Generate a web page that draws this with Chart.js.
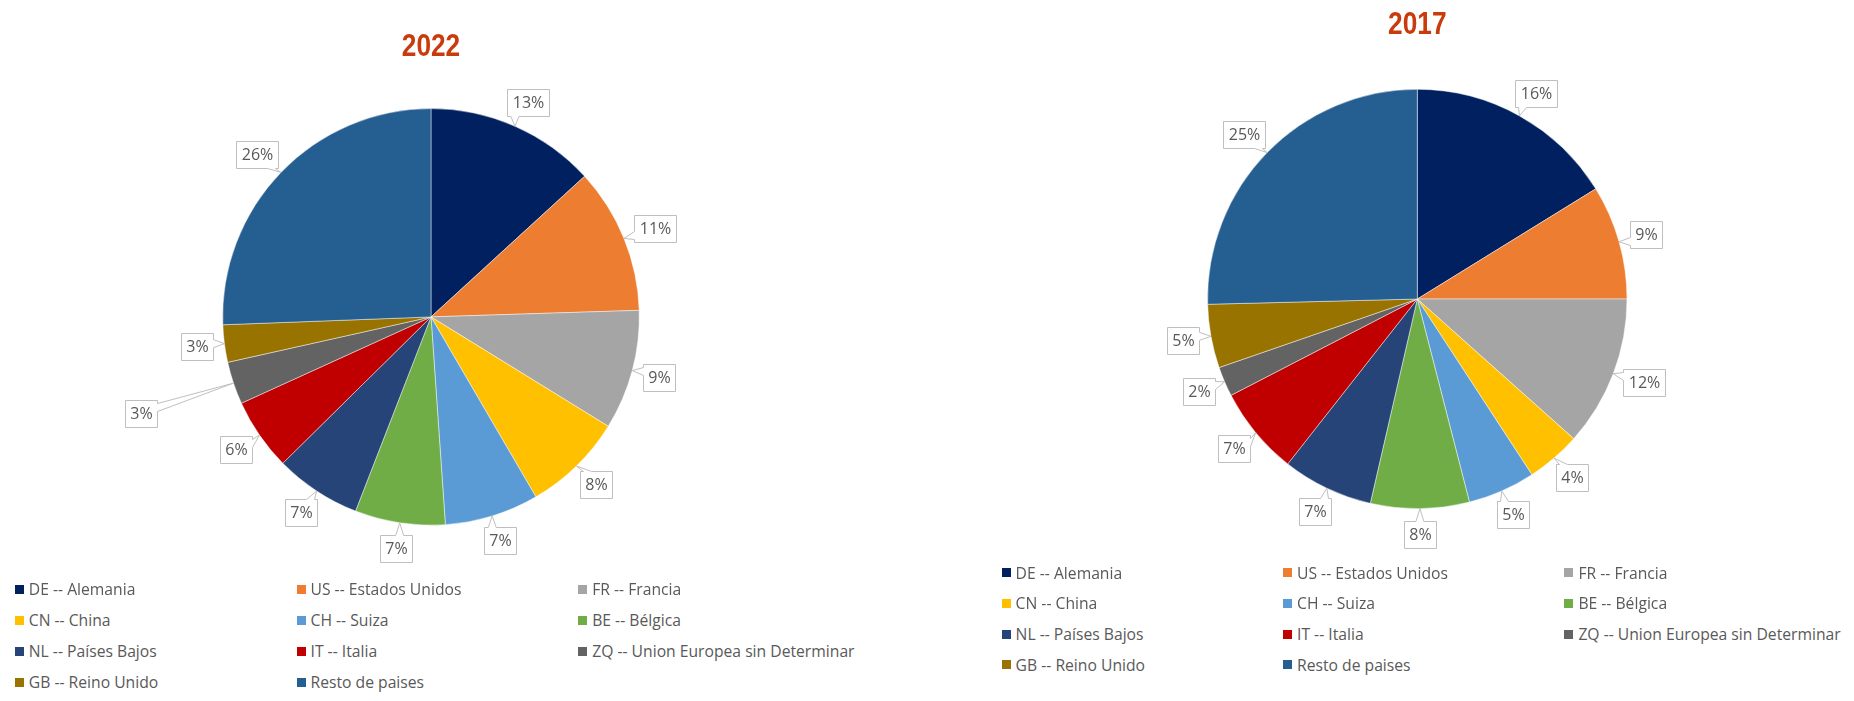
<!DOCTYPE html>
<html>
<head>
<meta charset="utf-8">
<script src="https://cdn.jsdelivr.net/npm/chart.js@4/dist/chart.umd.min.js"></script>
<style>
  html, body { margin:0; padding:0; background:#fff; width:1854px; height:701px; overflow:hidden; }
  body { position:relative; font-family:'Open Sans', sans-serif; }
  canvas { position:absolute; top:0; }
  #c2022 { left:0; }
  #c2017 { left:927px; }
  .li { position:absolute; height:22px; line-height:22px; white-space:nowrap; font-size:15.7px; color:#595959; font-family:'Open Sans', sans-serif; }
  .li i { position:absolute; left:0; top:6.5px; width:9px; height:9px; }
  .li span { position:absolute; left:14px; top:0; }
</style>
</head>
<body>
<canvas id="c2022" width="927" height="600"></canvas>
<canvas id="c2017" width="927" height="600"></canvas>
<div id="legends"></div>
<script>
// ---- data ----
const categories = [
  'DE -- Alemania', 'US -- Estados Unidos', 'FR -- Francia',
  'CN -- China', 'CH -- Suiza', 'BE -- Bélgica',
  'NL -- Países Bajos', 'IT -- Italia', 'ZQ -- Union Europea sin Determinar',
  'GB -- Reino Unido', 'Resto de paises'
];
const values2022 = [13.2, 11.3, 9.3, 7.8, 7.3, 7.0, 6.7, 5.6, 3.3, 2.9, 25.6];
const values2017 = [16.2, 8.8, 11.6, 4.2, 5.2, 7.6, 7.0, 6.8, 2.3, 4.9, 25.4];
const titles = ['2022', '2017'];

// ---- styles ----
const colors = ['#002060', '#ED7D31', '#A5A5A5', '#FFC000', '#5B9BD5', '#70AD47',
                '#264478', '#C00000', '#636363', '#997300', '#255E91'];
const titleColor = '#C93A0C';
const textColor = '#595959';

const titlePlugin = {
  id: 'scaledTitle',
  afterDraw(chart, args, o) {
    const ctx = chart.ctx;
    const ca = chart.chartArea;
    const cx = (ca.left + ca.right) / 2;
    ctx.save();
    ctx.font = 'bold ' + o.size + 'px ' + o.family;
    ctx.fillStyle = o.color;
    ctx.textAlign = 'center';
    ctx.textBaseline = 'alphabetic';
    ctx.translate(cx, o.baseline);
    ctx.scale(o.scaleX, 1);
    ctx.fillText(o.text, 0, 0);
    ctx.restore();
  }
};

const calloutPlugin = {
  id: 'callouts',
  afterDatasetsDraw(chart, args, opts) {
    const ctx = chart.ctx;
    const meta = chart.getDatasetMeta(0);
    const data = chart.data.datasets[0].data;
    const total = data.reduce((a, b) => a + b, 0);
    ctx.save();
    ctx.font = opts.font;
    ctx.lineWidth = 1;
    meta.data.forEach((arc, i) => {
      const p = arc.getProps(['x', 'y', 'startAngle', 'endAngle', 'outerRadius'], true);
      const mid = (p.startAngle + p.endAngle) / 2;
      const ux = Math.cos(mid), uy = Math.sin(mid);
      const ax = p.x + ux * p.outerRadius;
      const ay = p.y + uy * p.outerRadius;
      const text = Math.round(data[i] / total * 100) + '%';
      const tw = ctx.measureText(text).width;
      const w = Math.round(tw + 2 * opts.padX), h = opts.boxH;
      const dist = p.outerRadius + opts.distance + ((opts.push || {})[i] || 0);
      const cx = p.x + ux * dist + ux * w / 2;
      const cy = p.y + uy * dist + uy * h / 2;
      const x0 = Math.round(cx - w / 2) + 0.5, y0 = Math.round(cy - h / 2) + 0.5;
      const x1 = x0 + w, y1 = y0 + h;
      const rx = (ax - cx) / (w / 2), ry = (ay - cy) / (h / 2);
      let side;
      if (Math.abs(rx) > Math.abs(ry)) side = rx < 0 ? 'left' : 'right';
      else side = ry < 0 ? 'top' : 'bottom';
      const tb = opts.tailBase;
      const clamp = (v, a, b) => Math.max(a, Math.min(b, v));
      let q;
      if (side === 'top' || side === 'bottom') q = clamp(ax - tb / 2, x0 + 3, x1 - 3 - tb);
      else q = clamp(ay - tb / 2, y0 + 3, y1 - 3 - tb);
      ctx.beginPath();
      ctx.moveTo(x0, y0);
      if (side === 'top') { ctx.lineTo(q, y0); ctx.lineTo(ax, ay); ctx.lineTo(q + tb, y0); }
      ctx.lineTo(x1, y0);
      if (side === 'right') { ctx.lineTo(x1, q); ctx.lineTo(ax, ay); ctx.lineTo(x1, q + tb); }
      ctx.lineTo(x1, y1);
      if (side === 'bottom') { ctx.lineTo(q + tb, y1); ctx.lineTo(ax, ay); ctx.lineTo(q, y1); }
      ctx.lineTo(x0, y1);
      if (side === 'left') { ctx.lineTo(x0, q + tb); ctx.lineTo(ax, ay); ctx.lineTo(x0, q); }
      ctx.closePath();
      ctx.fillStyle = '#ffffff';
      ctx.fill();
      ctx.strokeStyle = opts.borderColor;
      ctx.stroke();
      ctx.fillStyle = opts.color;
      ctx.textAlign = 'center';
      ctx.textBaseline = 'middle';
      ctx.fillText(text, x0 + w / 2, y0 + h / 2 + 0.5);
    });
    ctx.restore();
  }
};

function makeChart(id, values, title, cfg) {
  return new Chart(document.getElementById(id), {
    type: 'pie',
    data: {
      labels: categories,
      datasets: [{
        data: values,
        backgroundColor: colors,
        borderColor: 'rgba(255,255,255,0.45)',
        borderWidth: 1,
        radius: cfg.radius,
        hoverOffset: 0
      }]
    },
    options: {
      responsive: false,
      animation: false,
      layout: { padding: cfg.padding },
      plugins: {
        legend: { display: false },
        tooltip: { enabled: false },
        title: { display: false },
        scaledTitle: {
          text: title,
          color: titleColor,
          family: "'Liberation Sans', Arial, sans-serif",
          size: 32,
          scaleX: 0.82,
          baseline: cfg.titleBaseline
        },
        callouts: {
          font: "16px 'Open Sans', sans-serif",
          color: textColor,
          borderColor: '#BFBFBF',
          distance: 12,
          padX: 5,
          boxH: 27,
          tailBase: 8,
          push: cfg.push || {}
        }
      }
    },
    plugins: [calloutPlugin, titlePlugin]
  });
}

function buildLegend(chart, L) {
  const host = document.getElementById('legends');
  let items;
  try { items = chart.options.plugins.legend.labels.generateLabels(chart); }
  catch (e) { items = null; }
  if (!items || !items.length) {
    items = chart.data.labels.map((t, i) => ({ text: t, fillStyle: chart.data.datasets[0].backgroundColor[i] }));
  }
  items.forEach((it, i) => {
    const col = i % 3, row = Math.floor(i / 3);
    const d = document.createElement('div');
    d.className = 'li';
    d.style.left = (L.left + col * L.colW) + 'px';
    d.style.top = (L.top + row * L.rowH - 11) + 'px';
    const b = document.createElement('i');
    b.style.background = it.fillStyle;
    const s = document.createElement('span');
    s.textContent = it.text;
    d.appendChild(b); d.appendChild(s);
    host.appendChild(d);
  });
}

const chart2022 = makeChart('c2022', values2022, titles[0], {
  radius: 208.3,
  padding: { left: 0, right: 65, top: 63.2, bottom: 29.4 },
  titleBaseline: 55.5,
  push: { 8: 70 }
});
const chart2017 = makeChart('c2017', values2017, titles[1], {
  radius: 209.7,
  padding: { left: 53.6, right: 0, top: 41, bottom: 43 },
  titleBaseline: 34.3
});

buildLegend(chart2022, { left: 14.8, top: 589, colW: 281.7, rowH: 31 });
buildLegend(chart2017, { left: 1001.6, top: 572.7, colW: 281.4, rowH: 30.7 });
</script>
</body>
</html>
